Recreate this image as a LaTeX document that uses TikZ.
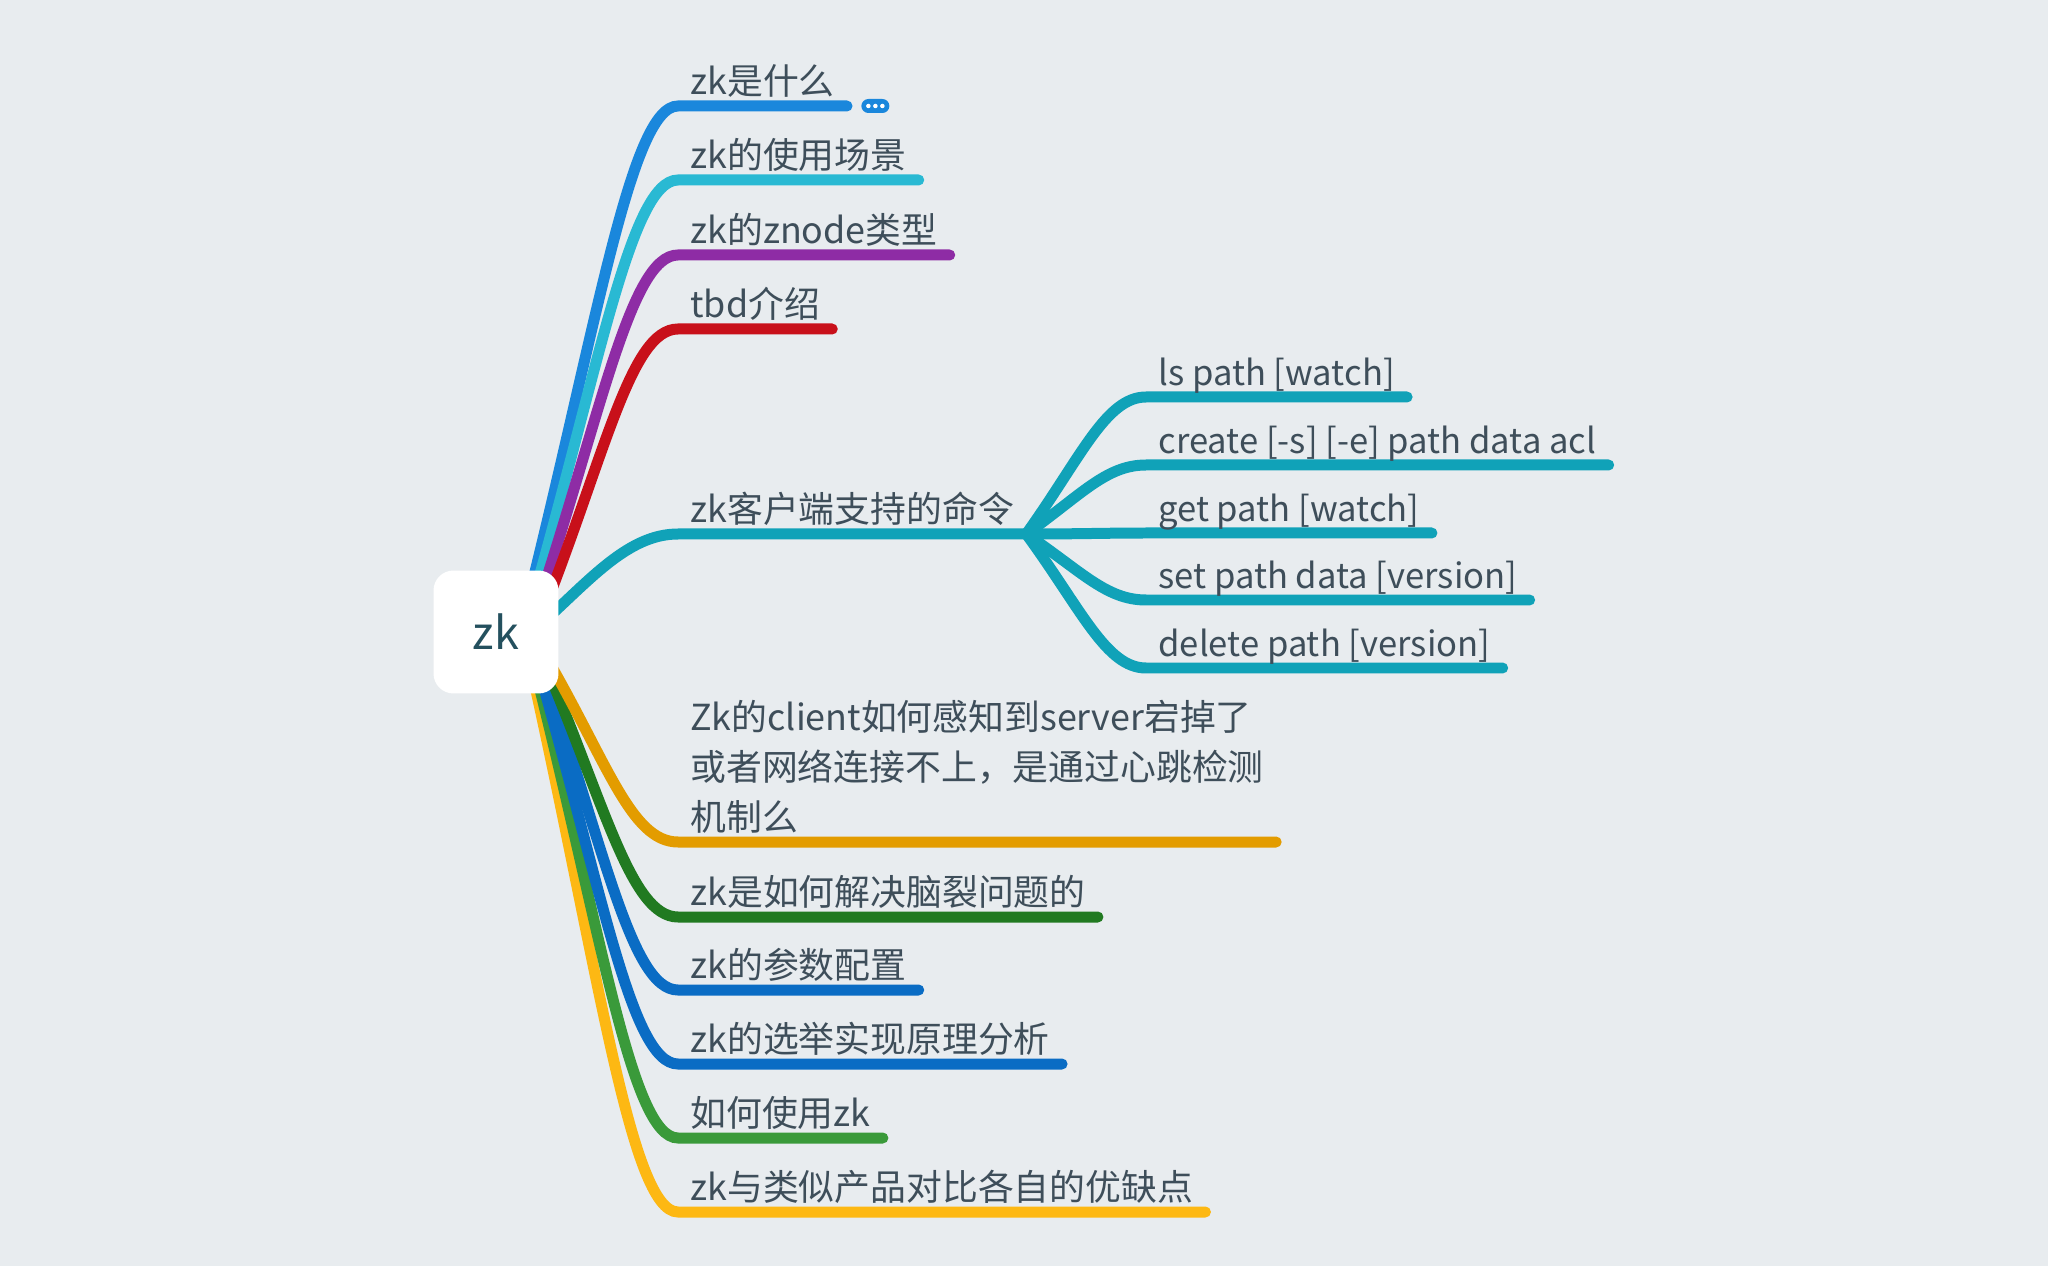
\documentclass[tikz,border=0pt]{standalone}
\usepackage{fontspec}
\setmainfont{Noto Sans CJK SC}
\usetikzlibrary{positioning, calc}

\definecolor{bgcol}{HTML}{E8ECEF}
\definecolor{txtcol}{HTML}{3E4E5A}
\definecolor{rootcol}{HTML}{24505E}
\definecolor{cblue}{HTML}{1A87DC}
\definecolor{ccyan}{HTML}{29B9D3}
\definecolor{cpurple}{HTML}{8E2CA5}
\definecolor{cred}{HTML}{C8101A}
\definecolor{cteal}{HTML}{10A2B8}
\definecolor{corange}{HTML}{E39C00}
\definecolor{cdkgreen}{HTML}{217A21}
\definecolor{cnavy}{HTML}{0A6CC4}
\definecolor{cgreen}{HTML}{3A9A3A}
\definecolor{camber}{HTML}{FDB813}

\pgfdeclarelayer{back}
\pgfdeclarelayer{edges}
\pgfsetlayers{back,edges,main}

\tikzset{
  rootbox/.style={fill=white, rounded corners=0.4cm, minimum width=2.5cm,
    minimum height=2.46cm, text=rootcol, font=\fontsize{25.6}{30}\selectfont},
  topic/.style={anchor=south west, inner xsep=0.24cm, inner ysep=0.04cm,
    text depth=0.18cm, align=left, text=txtcol,
    font=\fontsize{20.4}{28.45}\selectfont},
  cmd/.style={topic, font=\fontsize{19.7}{28.45}\selectfont},
  branch/.style={line width=0.22cm, line cap=round},
  moredots/.style={fill=cblue, rounded corners=0.14cm, minimum width=0.56cm,
    minimum height=0.28cm, inner sep=0pt}
}

\begin{document}
\begin{tikzpicture}[x=0.02cm, y=-0.02cm]
\begin{pgfonlayer}{back}
\fill[bgcol] (0,0) rectangle (2048,1266);
\end{pgfonlayer}
\useasboundingbox (0,0) rectangle (2048,1266);

% Root
\node[rootbox] (root) at (496,632) {zk};

% Topics
\node[topic] (t1) at (678,106) {zk是什么};
\node[topic] (t2) at (678,180) {zk的使用场景};
\node[topic] (t3) at (678,255) {zk的znode类型};
\node[topic] (t4) at (678,329) {tbd介绍};
\node[topic] (t5) at (678,534) {zk客户端支持的命令};
\node[topic] (t6) at (678,842) {Zk的client如何感知到server宕掉了\\或者网络连接不上，是通过心跳检测\\机制么};
\node[topic] (t7) at (678,917) {zk是如何解决脑裂问题的};
\node[topic] (t8) at (678,990) {zk的参数配置};
\node[topic] (t9) at (678,1064) {zk的选举实现原理分析};
\node[topic] (t10) at (678,1138) {如何使用zk};
\node[topic] (t11) at (678,1212) {zk与类似产品对比各自的优缺点};

% Commands
\node[cmd] (c1) at (1146,397) {ls path [watch]};
\node[cmd] (c2) at (1146,465) {create [-s] [-e] path data acl};
\node[cmd] (c3) at (1146,533) {get path [watch]};
\node[cmd] (c4) at (1146,600) {set path data [version]};
\node[cmd] (c5) at (1146,668) {delete path [version]};

% Collapsed marker
\node[moredots, right=0.28cm of t1.south east] (m1) {};
\foreach \dx in {-7,0,7}
  \fill[white] ($(m1.center)+(\dx,0)$) circle (0.045cm);

% Start points under the root
\coordinate (s1) at ($(root.center)+(27,-12)$);
\coordinate (s2) at ($(root.center)+(31,-12)$);
\coordinate (s3) at ($(root.center)+(37,-12)$);
\coordinate (s4) at ($(root.center)+(44,-12)$);
\coordinate (s5) at ($(root.center)+(44,-7)$);
\coordinate (s6) at ($(root.center)+(46,18)$);
\coordinate (s7) at ($(root.center)+(43,18)$);
\coordinate (s8) at ($(root.center)+(40,18)$);
\coordinate (s9) at ($(root.center)+(37,18)$);
\coordinate (s10) at ($(root.center)+(34,18)$);
\coordinate (s11) at ($(root.center)+(31,18)$);

\begin{pgfonlayer}{edges}
% Upper branches
\draw[branch, cblue] (s1) .. controls +(73,-288) and +(-48,0) .. (t1.south west) -- (t1.south east);
\draw[branch, ccyan] (s2) .. controls +(71,-246) and +(-48,0) .. (t2.south west) -- (t2.south east);
\draw[branch, cpurple] (s3) .. controls +(68,-204) and +(-48,0) .. (t3.south west) -- (t3.south east);
\draw[branch, cred] (s4) .. controls +(65,-163) and +(-48,0) .. (t4.south west) -- (t4.south east);
\draw[branch, cteal] (s5) .. controls +(50,-45) and +(-50,0) .. (t5.south west) -- (t5.south east);

% Lower branches
\draw[branch, camber] (s11) .. controls +(71,315) and +(-48,0) .. (t11.south west) -- (t11.south east);
\draw[branch, cgreen] (s10) .. controls +(70,273) and +(-48,0) .. (t10.south west) -- (t10.south east);
\draw[branch, cnavy] (s9) .. controls +(68,232) and +(-48,0) .. (t9.south west) -- (t9.south east);
\draw[branch, cnavy] (s8) .. controls +(67,190) and +(-48,0) .. (t8.south west) -- (t8.south east);
\draw[branch, cdkgreen] (s7) .. controls +(65,150) and +(-48,0) .. (t7.south west) -- (t7.south east);
\draw[branch, corange] (s6) .. controls +(64,108) and +(-48,0) .. (t6.south west) -- (t6.south east);

% Command branches
\draw[branch, cteal] (t5.south east) .. controls +(55,-77) and +(-40,0) .. (c1.south west) -- (c1.south east);
\draw[branch, cteal] (t5.south east) .. controls +(55,-39) and +(-40,0) .. (c2.south west) -- (c2.south east);
\draw[branch, cteal] (t5.south east) .. controls +(55,0) and +(-40,0) .. (c3.south west) -- (c3.south east);
\draw[branch, cteal] (t5.south east) .. controls +(55,37) and +(-40,0) .. (c4.south west) -- (c4.south east);
\draw[branch, cteal] (t5.south east) .. controls +(55,75) and +(-40,0) .. (c5.south west) -- (c5.south east);
\end{pgfonlayer}
\end{tikzpicture}
\end{document}
